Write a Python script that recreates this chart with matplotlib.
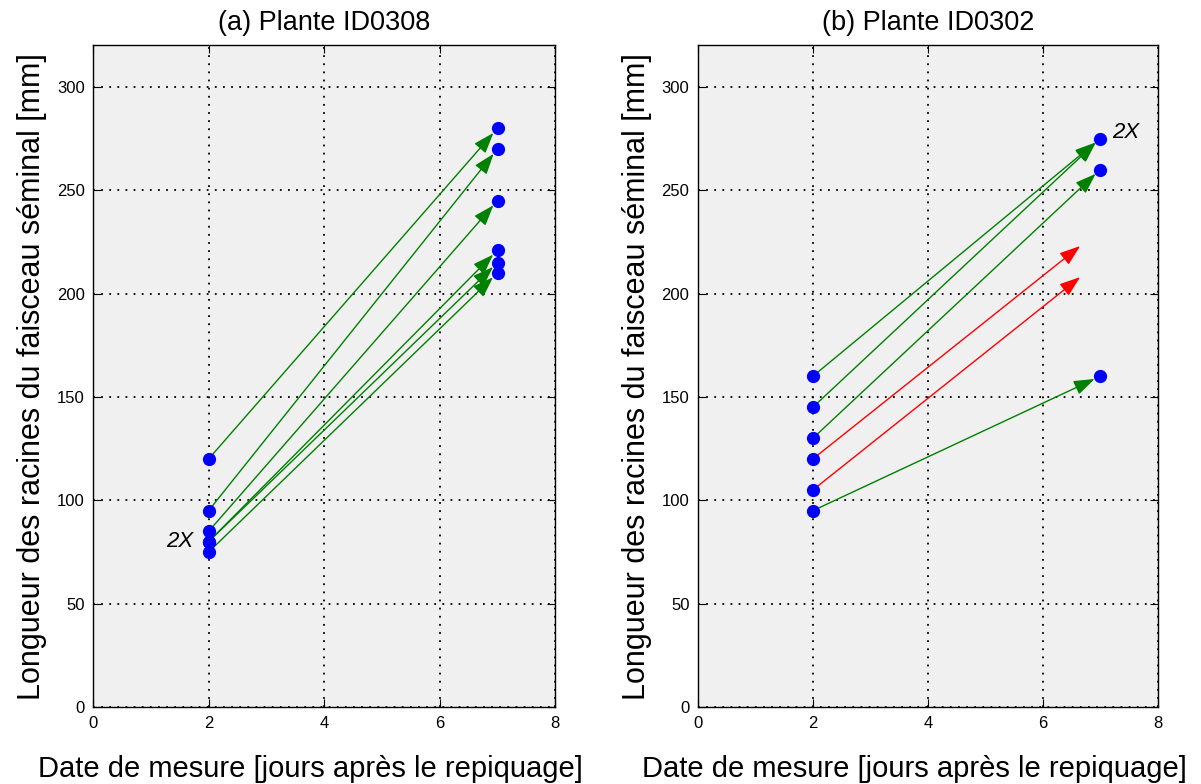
import matplotlib.pyplot as plt
from matplotlib.patches import FancyArrowPatch

plt.rcParams['font.family'] = ['Liberation Sans', 'DejaVu Sans']

# jours de mesure
day_start = 2
day_end = 7

# (a) plante ID0308 : longueurs [mm]
a_start = [120, 95, 85, 80, 80, 75]
a_end = [280, 270, 245, 221, 215, 210]

# (b) plante ID0302 : racines suivies jusqu'au jour 7
b_start = [160, 145, 130, 95]
b_end = [275, 275, 260, 160]
# racines perdues : fleches sans point final
b_lost_start = [120, 105]
b_lost_tip_x = [6.65, 6.65]
b_lost_tip_y = [223, 208]
b_day2 = [160, 145, 130, 120, 105, 95]
b_day7 = [275, 260, 160]

titles = ['(a) Plante ID0308', '(b) Plante ID0302']
xticks = [0, 2, 4, 6, 8]
yticks = [0, 50, 100, 150, 200, 250, 300]

GREEN = '#008000'
RED = '#ff0000'
BLUE = '#0000ff'


def arrow(ax, x0, y0, x1, y1, color, shrink):
    ax.add_patch(FancyArrowPatch((x0, y0), (x1, y1),
                                 arrowstyle='-|>,head_length=0.85,head_width=0.3',
                                 mutation_scale=15, color=color, lw=1.0,
                                 shrinkA=0, shrinkB=shrink, zorder=3))


def setup(ax, title):
    ax.set_facecolor('#f0f0f0')
    ax.set_xlim(0, 8)
    ax.set_ylim(0, 320)
    ax.set_xticks(xticks)
    ax.set_yticks(yticks)
    ax.grid(True, color='black', linestyle=(0, (1, 3.5)), linewidth=1.3)
    ax.set_axisbelow(True)
    ax.tick_params(direction='in', top=True, right=True, length=6,
                   labelsize=12, pad=6)
    for s in ax.spines.values():
        s.set_linewidth(1.0)
    ax.set_title(title, fontsize=19.5, pad=11)
    ax.set_xlabel('Date de mesure [jours après le repiquage]', fontsize=21)
    ax.xaxis.set_label_coords(0.47, -0.072)
    ax.set_ylabel('Longueur des racines du faisceau séminal [mm]', fontsize=22, labelpad=7)


def main():
    fig = plt.figure(figsize=(12.01, 7.84), dpi=100)
    ax1 = fig.add_axes([0.0774, 0.098, 0.385, 0.844])
    ax2 = fig.add_axes([0.581, 0.098, 0.383, 0.844])

    setup(ax1, titles[0])
    for y0, y1 in zip(a_start, a_end):
        arrow(ax1, day_start, y0, day_end, y1, GREEN, 4.5)
    ax1.plot([day_start] * len(a_start), a_start, 'o', color=BLUE, ms=8.5, zorder=4)
    ax1.plot([day_end] * len(a_end), a_end, 'o', color=BLUE, ms=8.5, zorder=4)
    ax1.text(1.5, 80, '2X', fontsize=16, style='italic', ha='center', va='center')

    setup(ax2, titles[1])
    for y0, y1 in zip(b_start, b_end):
        arrow(ax2, day_start, y0, day_end, y1, GREEN, 4.5)
    for y0, tx, ty in zip(b_lost_start, b_lost_tip_x, b_lost_tip_y):
        arrow(ax2, day_start, y0, tx, ty, RED, 0)
    ax2.plot([day_start] * len(b_day2), b_day2, 'o', color=BLUE, ms=8.5, zorder=4)
    ax2.plot([day_end] * len(b_day7), b_day7, 'o', color=BLUE, ms=8.5, zorder=4)
    ax2.text(7.2, 278, '2X', fontsize=16, style='italic', ha='left', va='center')

    fig.savefig('out.png', dpi=100)


if __name__ == "__main__":
    main()
